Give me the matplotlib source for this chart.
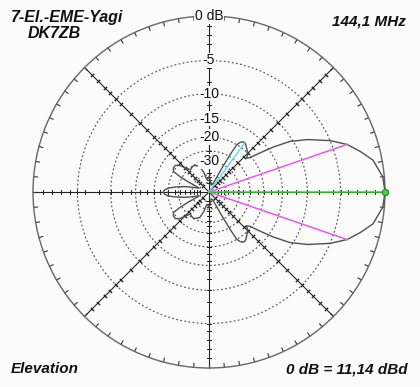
import numpy as np
import matplotlib
matplotlib.use("Agg")
import matplotlib.pyplot as plt

# ---- data (upper half of free-space elevation pattern, mirrored below) ----
pattern_deg = [0, 5, 11, 15, 19, 23, 28, 32, 35, 37.5, 40, 42, 44, 48, 52, 54, 56, 58,
               59.5, 60.5, 61.5, 63, 66, 72, 80, 86, 90, 94, 100, 105, 110, 115, 120,
               125, 130, 134, 138, 142, 146, 150, 152, 154, 158, 162, 165, 168, 171,
               174, 177, 180]
pattern_db = [0, -0.15, -0.9, -2.0, -3.2, -5.0, -7.8, -10.5, -13.9, -17.3, -20.5, -21.4,
              -20.4, -19.4, -18.5, -18.2, -18.3, -18.9, -20.0, -24, -32, -45, -52, -55,
              -50, -44, -42, -44, -45, -37, -32, -31, -30, -30.4, -31, -28.7, -25.4,
              -24.2, -24.2, -25, -28.7, -35, -48, -44, -38, -33, -29, -25.5, -23.7, -23.1]
ring_db = [-5, -10, -15, -20, -25, -30, -40, -50]
ring_labels = {0: "0 dB", -5: "-5", -10: "-10", -15: "-15", -20: "-20", -30: "-30"}
axis_tick_db = [-1, -2, -3, -4, -5, -6, -8, -10, -12, -14, -16, -18, -20,
                -22, -25, -28, -31, -34, -38, -42, -46, -51]
halfpower_deg = 19
halfpower_db = -3.2
sidelobe_deg = 54
sidelobe_db = -18.2
main_deg = 0
main_db = 0
rim_tick_deg = list(range(0, 360, 5))

LN = np.log(0.89)


def fwd(db):
    db = np.asarray(db, dtype=float)
    return np.exp(-db / 2.0 * LN)


def inv(y):
    y = np.clip(np.asarray(y, dtype=float), 1e-300, None)
    return -2.0 * np.log(y) / LN


bg = "#fbfcfa"
fig = plt.figure(figsize=(4.2, 3.87), dpi=100, facecolor=bg)
W, H = 420, 387
cx, cy, R = 209, 192, 176
ax = fig.add_axes([(cx - R) / W, (H - cy - R) / H, 2 * R / W, 2 * R / H],
                  projection="polar", facecolor=bg)
ax.set_rscale("function", functions=(fwd, inv))

ax.set_thetagrids(np.arange(0, 360, 45), labels=[""] * 8)
ax.set_rgrids(ring_db, labels=[""] * len(ring_db))
ax.set_rlim(-200, 0)
ax.xaxis.grid(True, color="#222222", lw=0.8, ls="-")
ax.yaxis.grid(True, color="#555555", lw=0.85, ls=(0, (1.5, 2.0)))
ax.tick_params(axis="both", length=0)
ax.spines["polar"].set_color("#666666")
ax.spines["polar"].set_linewidth(1.0)

# small ticks on the rim every 5 degrees
for ang in rim_tick_deg:
    th = np.deg2rad(ang)
    ax.plot([th, th], [-0.38, 0], color="#333333", lw=0.8, clip_on=False)

# ticks along the axis lines
for ang in range(0, 360, 45):
    th = np.deg2rad(ang)
    ax.plot([th] * len(axis_tick_db), axis_tick_db, ls="none",
            marker=(2, 2, ang), ms=3.2, mew=0.7, color="#222222")

# pattern
up_t = np.array(pattern_deg, dtype=float)
up_r = np.array(pattern_db, dtype=float)
theta = np.deg2rad(np.concatenate([up_t, 360 - up_t[::-1][1:]]))
rvals = np.concatenate([up_r, up_r[::-1][1:]])
ax.plot(theta, rvals, color="#505050", lw=1.0, zorder=5)

# helper lines
for s in (1, -1):
    ax.plot([np.deg2rad(s * halfpower_deg)] * 2, [-200, halfpower_db],
            color="#ee55ee", lw=1.1, zorder=6)
ax.plot([np.deg2rad(sidelobe_deg)] * 2, [-200, sidelobe_db],
        color="#55ddee", lw=1.0, zorder=6)
ax.plot([np.deg2rad(main_deg)] * 2, [-200, main_db], color="#33dd33", lw=1.1, zorder=6)
ax.plot([np.deg2rad(main_deg)], [main_db], marker="o", ms=4.5, mfc="#33dd33",
        mec="#228822", mew=0.8, zorder=7, clip_on=False)

# ring labels
for db, lab in ring_labels.items():
    ax.text(np.pi / 2, db, lab, ha="center", va="center", fontsize=10,
            family="Liberation Sans", color="#111111", zorder=8,
            bbox=dict(boxstyle="square,pad=0.05", fc=bg, ec="none"))

tkw = dict(family="Liberation Sans", fontweight="bold", fontstyle="italic",
           fontsize=11, color="#111111")
fig.text(11 / W, 1 - 17.5 / H, "7-El.-EME-Yagi", ha="left", va="center",
         **{**tkw, "fontsize": 11.5})
fig.text(28 / W, 1 - 33 / H, "DK7ZB", ha="left", va="center", **{**tkw, "fontsize": 11.5})
fig.text(406 / W, 1 - 21 / H, "144,1 MHz", ha="right", va="center", **tkw)
fig.text(11 / W, 1 - 369 / H, "Elevation", ha="left", va="center", **tkw)
fig.text(408 / W, 1 - 369 / H, "0 dB = 11,14 dBd", ha="right", va="center", **tkw)

fig.savefig("out.png", dpi=100, facecolor=bg)
